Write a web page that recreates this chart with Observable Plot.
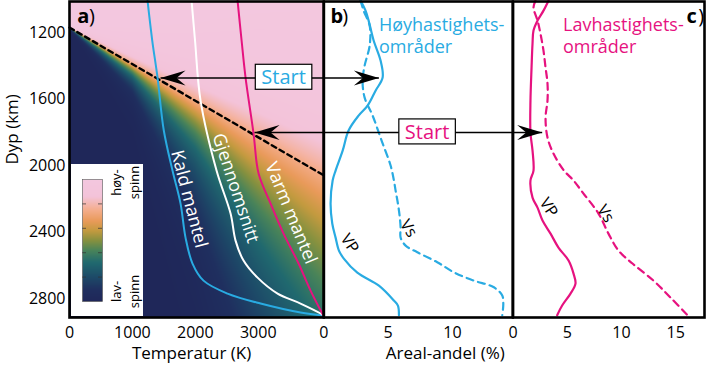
<!DOCTYPE html>
<html><head><meta charset="utf-8">
<script src="https://cdn.jsdelivr.net/npm/d3@7"></script>
<script src="https://cdn.jsdelivr.net/npm/@observablehq/plot@0.6"></script>
<style>
body{margin:0;background:#fff;}
#wrap{position:relative;width:706px;height:366px;font-family:'Open Sans',sans-serif;}
#wrap svg{position:absolute;left:0;top:0;overflow:visible;}
#wrap svg#bar{left:71px;top:164px;}
</style></head><body><div id="wrap"></div>
<script>
// ---------------- data ----------------
const depthTicks = [1200, 1600, 2000, 2400, 2800];
const tempTicks = [0, 1000, 2000, 3000];
const pctTicksB = [0, 5, 10];
const pctTicksC = [0, 5, 10, 15];
const colorbarTicks = [0.2, 0.4, 0.6, 0.8];

// panel a: geotherms (temperature K, depth km)
const coldTemp  = [1240, 1315, 1399, 1499, 1637, 1765, 1844, 1955, 2130, 2512, 3037, 3672, 4035];
const coldDepth = [1006, 1246, 1469, 1788, 2029, 2228, 2433, 2589, 2692, 2770, 2830, 2884, 2902];
const avgTemp   = [1940, 1995, 2083, 2337, 2560, 2639, 2766, 2989, 3307, 3672, 3990, 4035];
const avgDepth  = [1006, 1246, 1608, 2029, 2288, 2451, 2571, 2674, 2770, 2830, 2890, 2902];
const warmTemp  = [2671, 2735, 2798, 2925, 3005, 3196, 3402, 3641, 3831, 4035];
const warmDepth = [1006, 1246, 1469, 1806, 2047, 2228, 2409, 2589, 2752, 2902];

// spin transition: onset line (dashed) and widths of the transition above / below it
const transitionTemp = [0, 4040];
const transitionDepth = [1168, 2058];
const spinTemp = [0, 500, 1000, 2000, 3000, 4040];
const spinTopWidth = [3, 35, 70, 150, 240, 320];
const spinTailWidth = [3, 40, 85, 340, 750, 1150];
const spinAtOnset = 0.74;

// panel b: high-velocity regions (area fraction %)
const hiVpDepth = [1006,1066,1126,1246,1367,1469,1548,1638,1698,1788,1909,2029,2089,2228,2348,2433,2511,2559,2644,2722,2812,2842,2900];
const hiVp      = [2.86,3.24,3.48,3.87,4.41,4.57,4.02,3.40,2.70,1.92,1.46,0.91,0.68,0.52,0.65,0.91,1.17,1.55,2.60,4.28,5.45,5.76,5.84];
const hiVsDepth = [1006,1066,1156,1277,1397,1487,1590,1698,1849,1999,2089,2150,2228,2300,2373,2433,2481,2521,2581,2642,2692,2732,2782,2832,2900];
const hiVs      = [2.86,3.09,3.56,3.56,3.17,3.01,3.17,3.79,4.49,5.19,5.45,5.58,5.76,5.89,5.97,5.97,6.36,7.27,8.82,10.12,11.67,13.23,13.88,13.96,13.88];

// panel c: low-velocity regions (area fraction %)
const loVpDepth = [1006,1066,1126,1186,1264,1409,1608,1800,1909,2029,2089,2192,2252,2330,2409,2493,2571,2650,2710,2770,2842,2900];
const loVp      = [3.27,2.81,2.26,1.89,1.80,1.71,1.61,1.61,1.80,1.89,1.61,1.80,2.26,2.72,3.46,4.19,5.12,5.58,5.76,5.30,4.53,4.07];
const loVsDepth = [1006,1048,1126,1204,1307,1409,1505,1608,1710,1830,1927,2029,2089,2168,2288,2409,2511,2589,2692,2794,2900];
const loVs      = [2.07,1.89,2.26,2.53,2.81,3.00,3.18,3.18,3.00,3.18,3.73,4.70,5.58,6.50,7.88,8.80,9.72,11.01,12.95,14.52,16.08];

// "Start" arrows: from a geotherm (panel a) to a Vp curve (panel b or c)
const startDepth = [1471, 1800];
const startFromTemp = [1447, 2941];
const startToPct = [4.28, 2.69];
const startToPanel = ["b", "c"];
const startLabelPanel = ["a", "b"];
const startLabelValue = [3402, 8.03];
const startColor = ["#29abe2", "#e6127f"];

// colour bar (low spin = 0 .. high spin = 1)
const spinStops = [0, 0.1, 0.2, 0.32, 0.42, 0.5, 0.58, 0.66, 0.75, 0.86, 1];
const spinColors = ["#1f2759", "#1f2f5f", "#1d4a68", "#20696f", "#4a8459", "#86913f", "#c39a3f", "#e99a5a", "#f4ad8c", "#f3c3d9", "#f3c7df"];

// ---------------- helpers ----------------
const TMAX = 4040, BMAX = 14.7, CMAX = 17.65;
const DMIN = 1011, DMAX = 2914;
const cyan = "#29abe2", magenta = "#e6127f";
const font = "'Open Sans', sans-serif";
const rows = (xs, ds) => xs.map((v, i) => ({x: v, depth: ds[i]}));

const spinColor = d3.scaleLinear(spinStops, spinColors).interpolate(d3.interpolateRgb).clamp(true);
const onset = d3.scaleLinear(transitionTemp, transitionDepth);
const topW = d3.scaleLinear(spinTemp, spinTopWidth);
const tailW = d3.scaleLinear(spinTemp, spinTailWidth);
const spinFraction = (T, d) => {
  const D = onset(T);
  return d < D ? 1 - (1 - spinAtOnset) * Math.exp((d - D) / topW(T)) : spinAtOnset * Math.exp(-(d - D) / tailW(T));
};

const NX = 254, NY = 316;
const spinGrid = [];
for (let j = 0; j < NY; ++j) {
  const d = DMIN + (j + 0.5) * (DMAX - DMIN) / NY;
  for (let i = 0; i < NX; ++i) {
    const T = (i + 0.5) * TMAX / NX;
    spinGrid.push({T, d, c: spinColor(spinFraction(T, d))});
  }
}
const NB = 122;
const barGrid = d3.range(NB).map(j => ({u: 0.5, h: (j + 0.5) / NB, c: spinColor((j + 0.5) / NB)}));

// arrow pieces per panel
const stealth = {draw(ctx) { ctx.moveTo(0, 0); ctx.lineTo(-25, -7.5); ctx.lineTo(-16, 0); ctx.lineTo(-25, 7.5); ctx.closePath(); }};
const panelMax = {a: TMAX, b: BMAX, c: CMAX};
const order = ["a", "b", "c"];
function arrowPieces(panel) {
  const segs = [], heads = [], labels = [];
  startDepth.forEach((d, i) => {
    const to = startToPanel[i], pi = order.indexOf(panel), ti = order.indexOf(to);
    if (panel === "a") { segs.push({x1: startFromTemp[i], x2: TMAX, depth: d}); heads.push({x: startFromTemp[i], depth: d, rot: 180}); }
    else if (pi < ti) segs.push({x1: 0, x2: panelMax[panel], depth: d});
    else if (pi === ti) { segs.push({x1: 0, x2: startToPct[i], depth: d}); heads.push({x: startToPct[i], depth: d, rot: 0}); }
    if (startLabelPanel[i] === panel) labels.push({x: startLabelValue[i], depth: d, color: startColor[i]});
  });
  return [
    Plot.link(segs, {x1: "x1", x2: "x2", y1: "depth", y2: "depth", stroke: "black", strokeWidth: 1.5}),
    Plot.dot(heads, {x: "x", y: "depth", rotate: "rot", symbol: stealth, fill: "black", stroke: "none"}),
    Plot.text(labels, {x: "x", y: "depth", text: () => "Start", fill: "color", fontSize: 20, lineAnchor: "middle"})
  ];
}

const base = (left, right, bg, yAxis) => ({
  width: 706, height: 366, marginLeft: left, marginRight: right, marginTop: 1, marginBottom: 49,
  style: {fontFamily: font, fontSize: "16px", background: bg, color: "black"},
  y: {domain: [DMIN, DMAX], range: [1, 317], label: null, ...(yAxis ? {} : {axis: null})}
});
const xAxis = ticks => Plot.axisX(ticks, {tickSize: 0, tickPadding: 9, fontSize: 16, label: null, tickFormat: d => String(d)});
const letter = (l, opts) => [
  Plot.text([l], {...opts, fontSize: 20, fontWeight: "bold", textAnchor: "start", lineAnchor: "top"}),
  Plot.text([")"], {...opts, dx: opts.dx + 11.8, fontSize: 20, textAnchor: "start", lineAnchor: "top"})
];

// ---------- panel a ----------
const panelA = Plot.plot({
  ...base(69, 706 - 323.2, "white", true),
  x: {domain: [0, TMAX], label: null},
  color: {type: "identity"},
  marks: [
    Plot.raster(spinGrid, {x: "T", y: "d", fill: "c", x1: 0, x2: TMAX, y1: DMIN, y2: DMAX, width: NX, height: NY}),
    Plot.line(rows(transitionTemp, transitionDepth), {x: "x", y: "depth", stroke: "black", strokeWidth: 2.4, strokeDasharray: "5,4"}),
    Plot.line(rows(coldTemp, coldDepth), {x: "x", y: "depth", stroke: cyan, strokeWidth: 2, curve: "catmull-rom"}),
    Plot.line(rows(avgTemp, avgDepth), {x: "x", y: "depth", stroke: "white", strokeWidth: 2, curve: "catmull-rom"}),
    Plot.line(rows(warmTemp, warmDepth), {x: "x", y: "depth", stroke: magenta, strokeWidth: 2, curve: "catmull-rom"}),
    Plot.text([{x: 1900, depth: 2200, t: "Kald mantel", r: 75.5}, {x: 2640, depth: 2135, t: "Gjennomsnitt", r: 71.7}, {x: 3520, depth: 2285, t: "Varm mantel", r: 67.6}],
      {x: "x", y: "depth", text: "t", rotate: "r", fill: "white", fontSize: 18, lineAnchor: "middle"}),
    Plot.frame({stroke: "black", strokeWidth: 2.6}),
    ...arrowPieces("a"),
    Plot.axisY(depthTicks, {tickSize: 0, tickPadding: 4, fontSize: 16, label: null, tickFormat: d => String(d)}),
    xAxis(tempTicks),
    Plot.text(["Dyp (km)"], {frameAnchor: "left", rotate: -90, dx: -57, dy: 5, fontSize: 17, lineAnchor: "middle"}),
    Plot.text(["Temperatur (K)"], {frameAnchor: "bottom", dx: -5, dy: 36, fontSize: 17, lineAnchor: "middle"}),
    ...letter("a", {frameAnchor: "top-left", dx: 7.7, dy: 7.5})
  ]
});

// ---------- panel b ----------
const panelB = Plot.plot({
  ...base(323.4, 706 - 512.3, "transparent", false),
  x: {domain: [0, BMAX], label: null},
  marks: [
    Plot.line(rows(hiVp, hiVpDepth), {x: "x", y: "depth", stroke: cyan, strokeWidth: 2.2, curve: "catmull-rom"}),
    Plot.line(rows(hiVs, hiVsDepth), {x: "x", y: "depth", stroke: cyan, strokeWidth: 2.2, strokeDasharray: "7,5", curve: "catmull-rom"}),
    Plot.text([{x: 2.0, depth: 2469, t: "VP"}, {x: 6.59, depth: 2378, t: "Vs"}],
      {x: "x", y: "depth", text: "t", rotate: 57, fill: "black", fontSize: 16, lineAnchor: "middle"}),
    Plot.frame({stroke: "black", strokeWidth: 2.6}),
    ...arrowPieces("b"),
    xAxis(pctTicksB),
    Plot.text(["Areal-andel (%)"], {frameAnchor: "bottom-right", dx: -8, dy: 36, fontSize: 17, lineAnchor: "middle"}),
    ...letter("b", {frameAnchor: "top-left", dx: 6.6, dy: 7.5}),
    Plot.text(["Høyhastighets-\nområder"], {frameAnchor: "top-left", dx: 55, dy: 13, fontSize: 18, lineHeight: 1.26, fill: cyan, textAnchor: "start", lineAnchor: "top"})
  ]
});

// ---------- panel c ----------
const panelC = Plot.plot({
  ...base(512.5, 2, "transparent", false),
  x: {domain: [0, CMAX], label: null},
  marks: [
    Plot.line(rows(loVp, loVpDepth), {x: "x", y: "depth", stroke: magenta, strokeWidth: 2.2, curve: "catmull-rom"}),
    Plot.line(rows(loVs, loVsDepth), {x: "x", y: "depth", stroke: magenta, strokeWidth: 2.2, strokeDasharray: "7,5", curve: "catmull-rom"}),
    Plot.text([{x: 3.27, depth: 2252, t: "VP"}, {x: 8.53, depth: 2288, t: "Vs"}],
      {x: "x", y: "depth", text: "t", rotate: 57, fill: "black", fontSize: 16, lineAnchor: "middle"}),
    Plot.frame({stroke: "black", strokeWidth: 2.6}),
    ...arrowPieces("c"),
    xAxis(pctTicksC),
    ...letter("c", {frameAnchor: "top-right", dx: -18, dy: 7.5}),
    Plot.text(["Lavhastighets-\nområder"], {frameAnchor: "top-left", dx: 50, dy: 13, fontSize: 18, lineHeight: 1.26, fill: magenta, textAnchor: "start", lineAnchor: "top"})
  ]
});

// ---------- colour bar ----------
const bar = Plot.plot({
  width: 72, height: 152,
  marginLeft: 11, marginRight: 41, marginTop: 15, marginBottom: 15,
  style: {fontFamily: font, fontSize: "13px", background: "white"},
  x: {domain: [0, 1], axis: null},
  y: {domain: [0, 1], axis: null},
  color: {type: "identity"},
  marks: [
    Plot.raster(barGrid, {x: "u", y: "h", fill: "c", x1: 0, x2: 1, y1: 0, y2: 1, width: 1, height: NB}),
    Plot.ruleY(colorbarTicks, {stroke: "#333", strokeOpacity: 0.7, strokeDasharray: "4,12"}),
    Plot.frame({stroke: "#555", strokeWidth: 0.6}),
    Plot.text(["høy-\nspinn"], {frameAnchor: "top-right", dx: 6, dy: 3, rotate: -90, lineAnchor: "top", textAnchor: "middle", lineHeight: 1.35}),
    Plot.text(["lav-\nspinn"], {frameAnchor: "bottom-right", dx: 6, dy: -10, rotate: -90, lineAnchor: "top", textAnchor: "middle", lineHeight: 1.35})
  ]
});
bar.id = "bar";

const wrap = document.getElementById("wrap");
wrap.append(panelA, panelB, panelC, bar);

// white boxes behind the "Start" labels
const svgns = "http://www.w3.org/2000/svg";
wrap.querySelectorAll("text").forEach(t => {
  if (t.textContent !== "Start") return;
  const bb = t.getBBox();
  const r = document.createElementNS(svgns, "rect");
  r.setAttribute("x", bb.x - 6); r.setAttribute("y", bb.y + 1);
  r.setAttribute("width", bb.width + 12); r.setAttribute("height", bb.height - 2);
  r.setAttribute("fill", "white"); r.setAttribute("stroke", "black"); r.setAttribute("stroke-width", 1.2);
  if (t.getAttribute("transform")) r.setAttribute("transform", t.getAttribute("transform"));
  t.parentNode.insertBefore(r, t);
});
</script></body></html>
